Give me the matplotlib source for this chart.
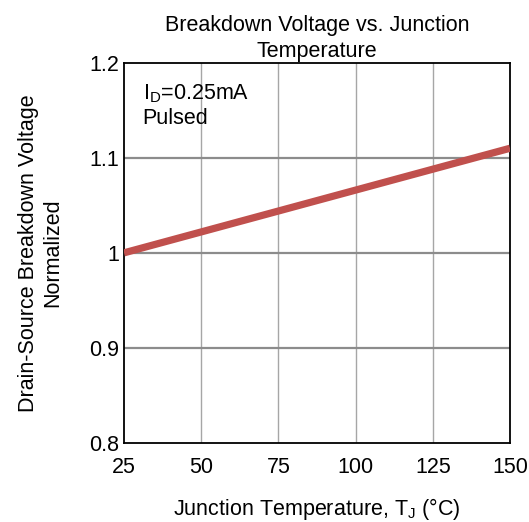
import matplotlib
matplotlib.use("Agg")
import matplotlib.pyplot as plt

plt.rcParams['font.family'] = ['Liberation Sans', 'DejaVu Sans']

temperature = [25, 150]
bv_normalized = [1.0, 1.11]
x_ticks = [25, 50, 75, 100, 125, 150]
y_ticks = [0.8, 0.9, 1.0, 1.1, 1.2]
y_tick_labels = ['0.8', '0.9', '1', '1.1', '1.2']

FS = 15.5

fig = plt.figure(figsize=(5.29, 5.22), dpi=100)
ax = fig.add_axes([124/529, 1 - 443/522, (510-124)/529, (443-62.7)/522])

for x in x_ticks[1:-1]:
    ax.axvline(x, color='#a6a6a6', lw=1.0, zorder=1)
for y in y_ticks[1:-1]:
    ax.axhline(y, color='#8c8c8c', lw=1.6, zorder=1)

ax.plot(temperature, bv_normalized, color='#c0504d', lw=5.2, zorder=3, solid_capstyle='butt')

ax.set_xlim(25, 150)
ax.set_ylim(0.8, 1.2)
ax.set_xticks(x_ticks)
ax.set_yticks(y_ticks)
ax.set_yticklabels(y_tick_labels)
ax.tick_params(length=0, labelsize=FS)
ax.tick_params(axis='x', pad=10)
ax.tick_params(axis='y', pad=3.5)
for s in ax.spines.values():
    s.set_linewidth(1.3)
    s.set_color('black')

ax.set_title('Breakdown Voltage vs. Junction\nTemperature', fontsize=FS, pad=4, linespacing=1.3)
ax.set_xlabel('Junction Temperature, T$_\\mathregular{J}$ (°C)', fontsize=FS, labelpad=13)
ax.set_ylabel('Drain-Source Breakdown Voltage\nNormalized', fontsize=FS, labelpad=19, linespacing=1.2)

ax.text(0.048, 0.947, 'I$_\\mathregular{D}$=0.25mA\nPulsed', transform=ax.transAxes,
        fontsize=FS, va='top', ha='left', linespacing=1.13)

fig.savefig('out.png', dpi=100)
